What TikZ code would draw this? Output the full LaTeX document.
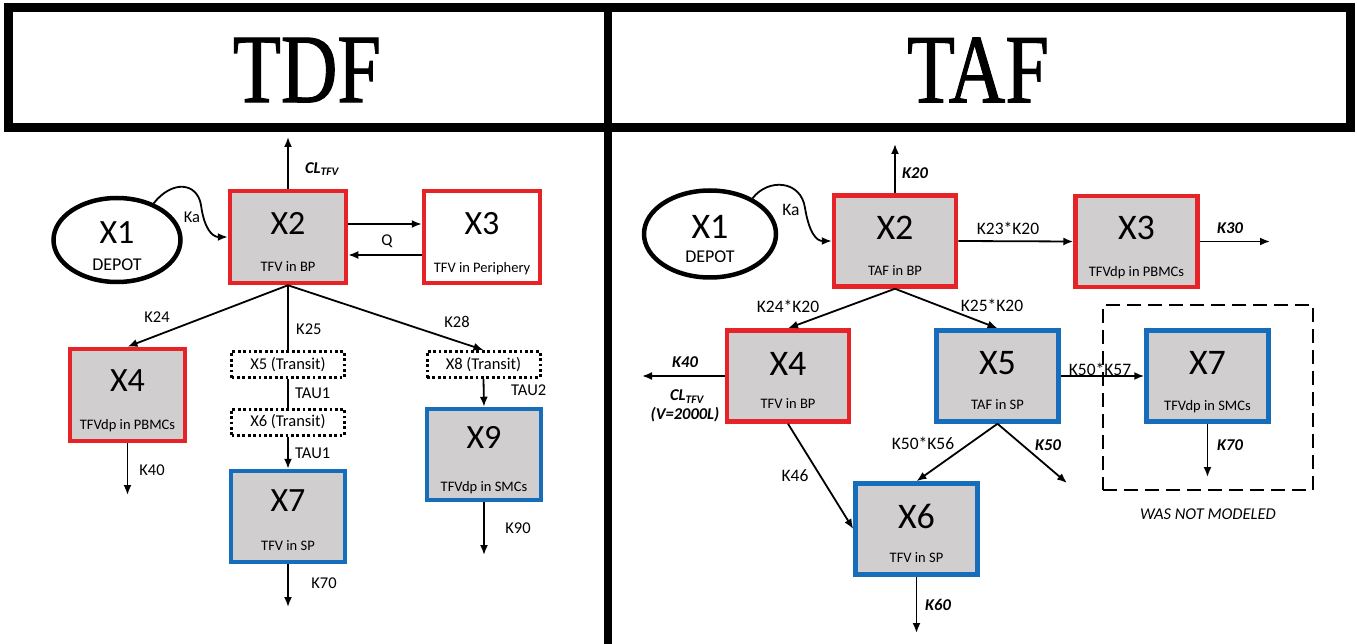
\documentclass[tikz,border=0pt]{standalone}
\usepackage{fontspec}
\setmainfont{Carlito}
\newfontfamily\titlefont[FakeBold=1.2]{Liberation Serif}
\usetikzlibrary{arrows.meta,shapes.geometric,calc}
\definecolor{myred}{RGB}{230,36,40}
\definecolor{myblue}{RGB}{22,110,186}
\definecolor{boxgray}{RGB}{208,206,206}
\begin{document}
\begin{tikzpicture}[x=1pt,y=-1pt,
  box/.style={draw, line width=4.5pt, minimum width=116pt, minimum height=92pt, fill=boxgray, inner sep=0pt},
  redbox/.style={box, draw=myred},
  bluebox/.style={box, draw=myblue},
  rbox/.style={minimum width=122pt, minimum height=91pt},
  depot/.style={draw, ellipse, line width=4.5pt, inner sep=0pt},
  transit/.style={draw, line width=3pt, dash pattern=on 2.8pt off 2.6pt, minimum width=113pt, minimum height=26pt, inner sep=0pt, font=\fontsize{16.5}{18}\selectfont},
  arr/.style={-{Latex[length=10pt,width=8pt]}, line width=1.8pt},
  ln/.style={line width=1.8pt},
  lbl/.style={font=\fontsize{16.5}{18}\selectfont, inner sep=0pt, text depth=0pt},
  rlbl/.style={font=\fontsize{17.5}{19}\selectfont, inner sep=0pt, text depth=0pt},
  dlbl/.style={font=\fontsize{18}{20}\selectfont, inner sep=0pt, text depth=0pt},
  blbl/.style={font=\fontsize{16.5}{18}\selectfont\bfseries\itshape, inner sep=0pt, text depth=0pt},
  bigt/.style={font=\fontsize{34}{38}\selectfont, inner sep=0pt, text depth=0pt},
  rbigt/.style={font=\fontsize{36}{40}\selectfont, inner sep=0pt, text depth=0pt},
  subt/.style={font=\fontsize{14.5}{16}\selectfont, inner sep=0pt, text depth=0pt},
  rsubt/.style={font=\fontsize{14.5}{16}\selectfont, inner sep=0pt, text depth=0pt},
  title/.style={font=\titlefont\fontsize{98}{100}\selectfont, inner sep=0pt, text depth=0pt}
]
\useasboundingbox (0,0) rectangle (1357,644);
\fill[white] (0,0) rectangle (1357,644);

% header frame
\draw[line width=9pt] (8,8) rectangle (1350,128);
\draw[line width=8pt] (608,8) -- (608,644);
\node[title] (tdf) at (307,70) {\scalebox{0.8}[1]{TDF}};
\node[title] (taf) at (978,70) {\scalebox{0.8}[1]{TAF}};

% ================= LEFT (TDF) =================
\node[depot, minimum width=127pt, minimum height=84pt] (L1) at (117,240) {};
\node[bigt] at (117,233) {X1};
\node[dlbl] at (117,265) {DEPOT};

\node[redbox] (L2) at (288,237) {};
\node[bigt] at (288,223) {X2};
\node[subt] at (288,267) {TFV in BP};

\node[box, draw=myred, fill=white] (L3) at (482,237) {};
\node[bigt] at (482,223) {X3};
\node[subt] at (482,267) {TFV in Periphery};

\node[redbox, minimum width=115pt] (L4) at (127.5,395) {};
\node[bigt] at (127.5,381) {X4};
\node[subt] at (127.5,424) {TFVdp in PBMCs};

\node[transit] (T5) at (288,364.5) {X5 (Transit)};
\node[transit] (T6) at (288,422) {X6 (Transit)};
\node[transit] (T8) at (483.5,364.5) {X8 (Transit)};

\node[bluebox, minimum width=114pt, minimum height=91pt] (L7) at (288,516.5) {};
\node[bigt] at (288,501) {X7};
\node[subt] at (288,546) {TFV in SP};

\node[bluebox, minimum width=114pt, minimum height=91pt] (L9) at (484,454.5) {};
\node[bigt] at (484,437) {X9};
\node[subt] at (484,486) {TFVdp in SMCs};

\coordinate (Lcl) at (288,137);
\coordinate (L4out) at (127.5,495);
\coordinate (L7out) at (288,607);
\coordinate (L9out) at (484,555);

\draw[arr] (L2.north) -- (Lcl);
\node[blbl] at (322,168) {CL\textsubscript{TFV}};
\draw[arr] (L1.45) .. controls (172,180) and (197,182) .. (201,205) .. controls (204,228) and (212,237) .. (L2.west);
\node[lbl] at (192,217) {Ka};
\draw[arr] ($(L2.east)+(0,-13)$) -- ($(L3.west)+(0,-13)$);
\draw[arr] ($(L3.west)+(0,18)$) -- ($(L2.east)+(0,18)$);
\node[lbl] at (387,240) {Q};

\draw[arr] (L2.south) -- (L4.north);
\node[lbl] at (157,317) {K24};
\draw[ln] (L2.south) -- (T5.north);
\node[lbl, anchor=west] at (296,329) {K25};
\draw[arr] (L2.south) -- (T8.north);
\node[lbl] at (457,322) {K28};
\draw[ln] (T5.south) -- (T6.north);
\node[lbl, anchor=west] at (295,393) {TAU1};
\draw[arr] (T6.south) -- (L7.north);
\node[lbl, anchor=west] at (295,453) {TAU1};
\draw[arr] (T8.south) -- (L9.north);
\node[lbl, anchor=west] at (511,390) {TAU2};
\draw[arr] (L4.south) -- (L4out);
\node[lbl] at (152,470) {K40};
\draw[arr] (L7.south) -- (L7out);
\node[lbl] at (324,583) {K70};
\draw[arr] (L9.south) -- (L9out);
\node[lbl] at (518,528) {K90};

% ================= RIGHT (TAF) =================
\node[depot, minimum width=132pt, minimum height=87pt] (R1) at (710,234) {};
\node[rbigt] at (710,227) {X1};
\node[dlbl] at (710,257) {DEPOT};

\node[redbox, rbox] (R2) at (895,241) {};
\node[rbigt] at (895,228) {X2};
\node[rsubt] at (895,271) {TAF in BP};

\node[redbox, rbox] (R3) at (1136.5,241.5) {};
\node[rbigt] at (1136.5,228) {X3};
\node[rsubt] at (1136.5,271) {TFVdp in PBMCs};

\node[redbox, rbox] (R4) at (788,376) {};
\node[rbigt] at (788,364) {X4};
\node[rsubt] at (788,404) {TFV in BP};

\node[bluebox, rbox] (R5) at (997.5,376) {};
\node[rbigt] at (997.5,363) {X5};
\node[rsubt] at (997.5,405) {TAF in SP};

\node[draw, line width=1.6pt, dash pattern=on 14pt off 7pt, minimum width=210pt, minimum height=185pt, inner sep=0pt] (NM) at (1208,397.5) {};

\node[bluebox, rbox] (R7) at (1207.5,376) {};
\node[rbigt] at (1207.5,363) {X7};
\node[rsubt] at (1207.5,405) {TFVdp in SMCs};

\node[bluebox, rbox] (R6) at (916.5,529) {};
\node[rbigt] at (916.5,516) {X6};
\node[rsubt] at (916.5,558) {TFV in SP};

\coordinate (R2out) at (895,144);
\coordinate (R3out) at (1270,241.5);
\coordinate (R4out) at (642,376);
\coordinate (R5out) at (1067,483);
\coordinate (R7out) at (1207.5,477);
\coordinate (R6out) at (916.5,633);

\draw[arr] (R2.north) -- (R2out);
\node[blbl] at (915,173) {K20};
\draw[arr] (R1.40) .. controls (768,178) and (801,180) .. (805,208) .. controls (809,232) and (816,241) .. (R2.west);
\node[rlbl] at (791,210) {Ka};
\draw[arr] (R2.east) -- (R3.west);
\node[rlbl] at (1008,228) {K23*K20};
\draw[arr] (R3.east) -- (R3out);
\node[blbl] at (1230,228) {K30};

\draw[arr] (R2.south) -- (R4.north);
\node[rlbl] at (788,306) {K24*K20};
\draw[arr] (R2.south) -- (R5.north);
\node[rlbl] at (992,305) {K25*K20};

\draw[arr] (R4.west) -- (R4out);
\node[blbl] at (685,362) {K40};
\node[blbl] at (687,395) {CL\textsubscript{TFV}};
\node[blbl] at (685,413) {(V=2000L)};

\draw[arr] (R5.east) -- (R7.west);
\node[rlbl] at (1100,369) {K50*K57};
\draw[arr] (R7.south) -- (R7out);
\node[blbl] at (1230,445) {K70};
\node[font=\fontsize{16.5}{18}\selectfont\itshape, inner sep=0pt] at (1208,514) {WAS NOT MODELED};

\draw[arr] (R5.south) -- (R6.north);
\node[rlbl] at (923,443) {K50*K56};
\draw[arr] (R5.south) -- (R5out);
\node[blbl] at (1048,445) {K50};
\draw[arr] (R4.south) -- (R6.west);
\node[rlbl] at (795,476) {K46};
\draw[arr] (R6.south) -- (R6out);
\node[blbl] at (938,605) {K60};
\end{tikzpicture}
\end{document}
